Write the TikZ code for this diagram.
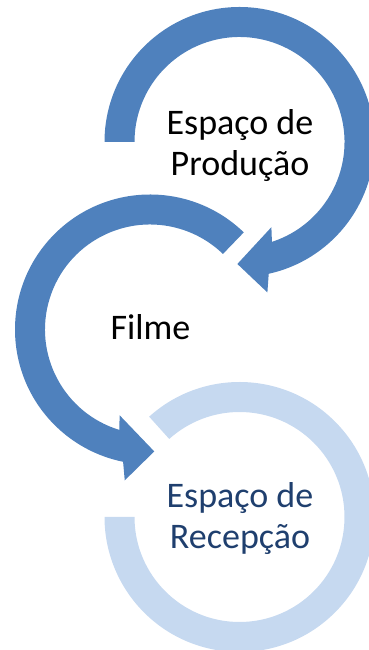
\documentclass[tikz,border=0pt]{standalone}
\usepackage{fontspec}
\setmainfont{Carlito}
\usetikzlibrary{calc}
\definecolor{accblue}{HTML}{4F81BD}
\definecolor{lightblue}{HTML}{C6D9F0}
\definecolor{navytext}{HTML}{1F3F6E}
\begin{document}
\begin{tikzpicture}[
  lbl/.style={anchor=base, inner sep=0pt, font=\fontsize{36}{41}\selectfont},
  darkarrow/.style={fill=accblue},
  lightring/.style={fill=lightblue}
]
\useasboundingbox (0pt,0pt) rectangle (368pt,650pt);
\coordinate (c1) at (239.5pt,508pt);
\coordinate (c2) at (150pt,320.5pt);
\coordinate (c3) at (239.5pt,133pt);
% ring 3 (light, no head)
\fill[lightring] ($(c3)+(132:135pt)$) arc[start angle=132, end angle=-180, radius=135pt]
  -- ($(c3)+(180:105pt)$) arc[start angle=-180, end angle=132, radius=105pt] -- cycle;
% arrow 2
\fill[darkarrow] ($(c2)+(46:135pt)$) arc[start angle=46, end angle=258.5, radius=135pt]
  -- ($(c2)+(260.5:153pt)$) -- ($(c2)+(272:122pt)$) -- ($(c2)+(250.5:91pt)$)
  -- ($(c2)+(253:105pt)$) arc[start angle=253, end angle=46, radius=105pt] -- cycle;
% arrow 1
\fill[darkarrow] ($(c1)+(180:135pt)$) arc[start angle=180, end angle=-77.5, radius=135pt]
  -- ($(c1)+(-79.5:153pt)$) -- ($(c1)+(-91:122pt)$) -- ($(c1)+(-69.5:91pt)$)
  -- ($(c1)+(-72:105pt)$) arc[start angle=-72, end angle=180, radius=105pt] -- cycle;
% labels
\node[lbl] (t1a) at (240pt,515pt) {Espaço de};
\node[lbl] (t1b) at (240pt,474pt) {Produção};
\node[lbl] (filme) at (150.5pt,310pt) {Filme};
\node[lbl, text=navytext] (t3a) at (240pt,142pt) {Espaço de};
\node[lbl, text=navytext] (t3b) at (240pt,101pt) {Recepção};
\end{tikzpicture}
\end{document}
